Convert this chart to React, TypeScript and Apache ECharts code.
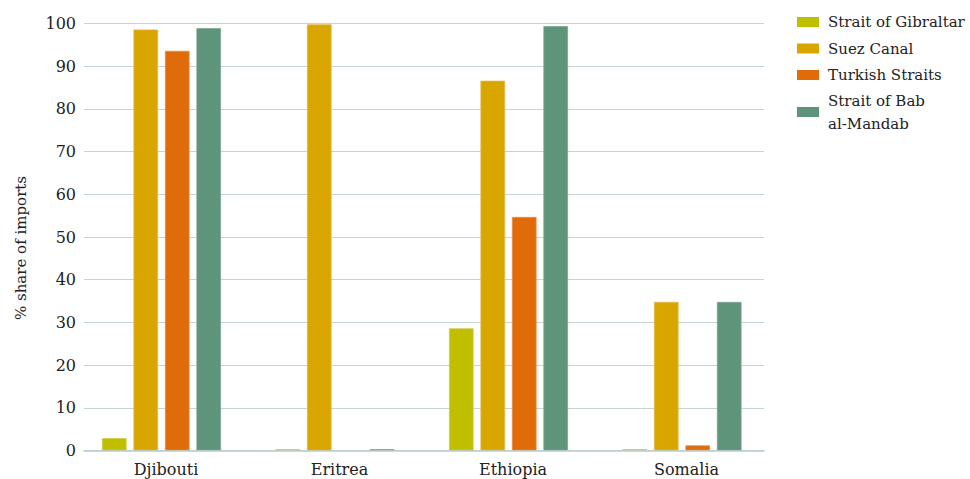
import React, { useEffect, useRef } from "react";
import * as echarts from "echarts";

const categories = ["Djibouti", "Eritrea", "Ethiopia", "Somalia"];
const seriesNames = ["Strait of Gibraltar", "Suez Canal", "Turkish Straits", "Strait of Bab al-Mandab"];
const gibraltar = [2.9, 0.3, 28.6, 0.3];
const suez = [98.6, 99.8, 86.6, 34.8];
const turkish = [93.6, 0, 54.7, 1.2];
const babAlMandab = [98.9, 0.3, 99.4, 34.8];
const colors = ["#bfbf00", "#d9a600", "#e06b0a", "#5e9479"];
const borders = ["#cccc40", "#e2b840", "#ea8c40", "#7aa690"];
const yTicks = [0, 10, 20, 30, 40, 50, 60, 70, 80, 90, 100];

const FONT = "DejaVu Serif";
const TEXT = "#222";

export default function App() {
  const ref = useRef<HTMLDivElement>(null);
  useEffect(() => {
    if (!ref.current) return;
    const chart = echarts.init(ref.current, undefined, { renderer: "svg" });
    const values = [gibraltar, suez, turkish, babAlMandab];
    chart.setOption({
      animation: false,
      textStyle: { fontFamily: FONT },
      grid: [
        { left: 84, right: 206, top: 23.5, bottom: 28.5, containLabel: false },
        { left: 74.75, right: 201.25, top: 23.5, bottom: 28.5, containLabel: false },
      ],
      legend: {
        orient: "vertical",
        left: 797,
        top: 13.5,
        padding: 0,
        itemWidth: 22,
        itemHeight: 10,
        itemGap: 9.5,
        icon: "rect",
        itemStyle: { borderWidth: 0 },
        textStyle: { fontFamily: FONT, fontSize: 15, lineHeight: 17, color: TEXT, padding: [0, 0, 0, 4] },
        data: seriesNames.map((n, i) =>
          i === 3
            ? { name: n, textStyle: { lineHeight: 23, padding: [0, 0, -23, 4] } }
            : { name: n }
        ),
        formatter: (name: string) => (name === "Strait of Bab al-Mandab" ? "Strait of Bab\nal-Mandab" : name),
      },
      xAxis: [
        {
          type: "category",
          gridIndex: 0,
          data: categories,
          axisLine: { lineStyle: { color: "#b9cccc", width: 1.5 } },
          axisTick: { show: false },
          axisLabel: { show: false },
          z: 5,
        },
        {
          type: "category",
          gridIndex: 1,
          data: categories,
          axisLine: { show: false },
          axisTick: { show: false },
          axisLabel: { fontFamily: FONT, fontSize: 16, color: TEXT, margin: 11, padding: [0, 0, 0, 9] },
        },
      ],
      yAxis: [
        {
          type: "value",
          gridIndex: 0,
          min: 0,
          max: 100,
          interval: 10,
          name: "% share of imports",
          nameLocation: "middle",
          nameGap: 56,
          nameTextStyle: { fontFamily: FONT, fontSize: 15, color: TEXT, padding: [0, 22, 0, 0] },
          axisLine: { show: false },
          axisTick: { show: false },
          axisLabel: {
            fontFamily: FONT,
            fontSize: 16,
            color: TEXT,
            margin: 8,
            formatter: (v: number) => (yTicks.includes(v) ? String(v) : ""),
          },
          splitLine: { lineStyle: { color: "#c5d4d4", width: 1 } },
        },
        {
          type: "value",
          gridIndex: 1,
          min: 0,
          max: 100,
          interval: 10,
          show: false,
          splitLine: { show: false },
        },
      ],
      series: seriesNames.map((n, i) => ({
        name: n,
        type: "bar",
        xAxisIndex: 1,
        yAxisIndex: 1,
        data: values[i].map((v) => (v === 0 ? { value: v, itemStyle: { borderWidth: 0, opacity: 0 } } : v)),
        barGap: "28%",
        barCategoryGap: "31.4%",
        itemStyle: { color: colors[i], borderColor: borders[i], borderWidth: 0.8 },
      })),
    });
    return () => chart.dispose();
  }, []);
  return <div ref={ref} style={{ width: 970, height: 479, position: "absolute", left: 0, top: 0 }} />;
}
